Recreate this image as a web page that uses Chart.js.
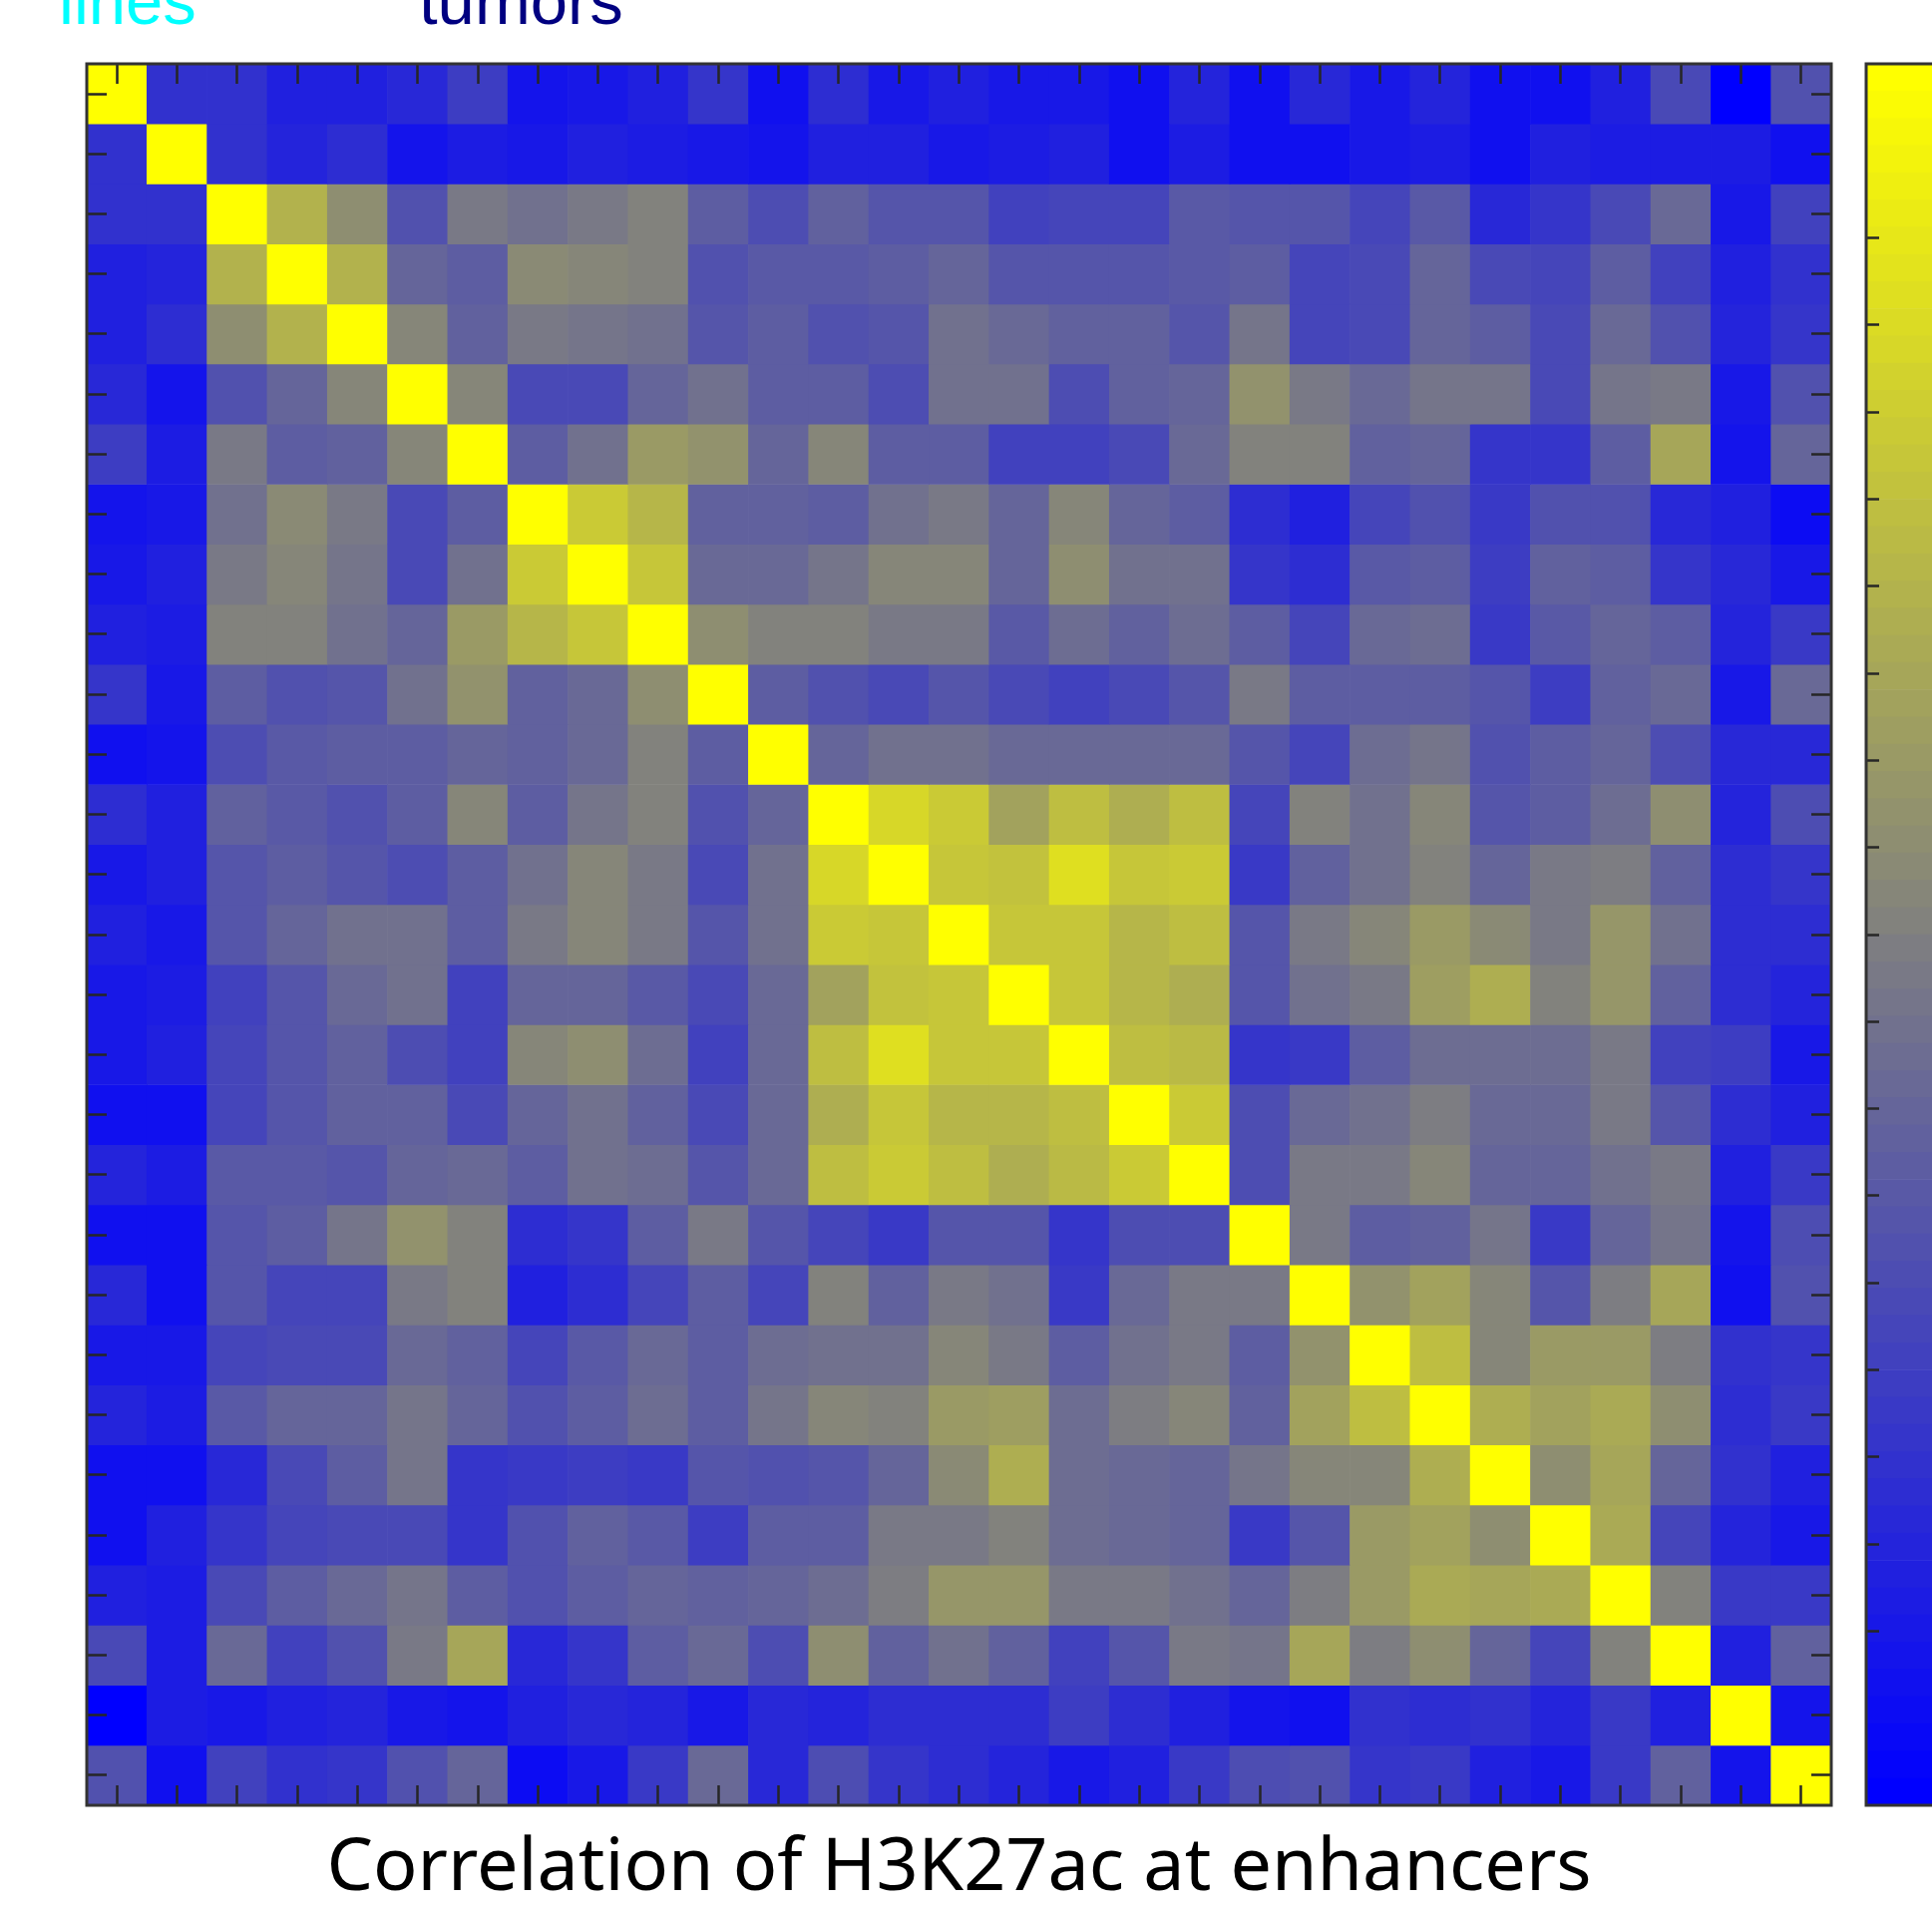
<!DOCTYPE html>
<html>
<head>
<meta charset="utf-8">
<title>Correlation of H3K27ac at enhancers</title>
<script src="https://cdn.jsdelivr.net/npm/chart.js@4"></script>
<style>
    html, body { margin: 0; padding: 0; background: #fff; }
    #page { position: relative; width: 1937px; height: 1915px; overflow: hidden; }
    #mainChart { position: absolute; left: 0; top: 0; }
    #barChart { position: absolute; left: 1850px; top: 0; }
    .group { position: absolute; font-family: "Liberation Sans"; font-size: 67px; line-height: 67px; }
</style>
</head>
<body>
<div id="page">
    <canvas id="mainChart" width="1937" height="1915"></canvas>
    <canvas id="barChart" width="300" height="1915"></canvas>
    <div class="group" style="left:59px; top:-33px; color:#00ffff;">lines</div>
    <div class="group" style="left:420px; top:-33px; color:#000080;">tumors</div>
</div>
<script>
//Sample numbers, one per row/column of the matrix
var samples = [1,2,3,4,5,6,7,8,9,10,11,12,13,14,15,16,17,18,19,20,21,22,23,24,25,26,27,28,29];

//Correlation levels (0 = blue, 100 = yellow), matrix is symmetric so each row starts at its diagonal
var row1  = [100,19,19,13,12,16,24,8,9,12,21,7,17,10,13,10,10,7,14,7,16,9,14,7,6,13,28,0,32];
var row2  = [100,19,15,18,8,11,9,12,11,9,8,13,12,10,11,13,6,11,6,6,9,11,7,12,11,11,11,7];
var row3  = [100,70,55,31,48,45,47,50,36,30,38,33,33,25,27,27,35,33,34,27,35,16,20,28,42,9,25];
var row4  = [100,70,39,36,54,53,51,31,35,35,37,39,33,34,34,35,37,27,29,39,28,27,36,26,13,19];
var row5  = [100,52,38,48,46,45,34,37,31,33,44,42,38,38,33,46,27,29,39,37,28,41,31,14,20];
var row6  = [100,52,29,29,40,44,37,36,30,44,44,30,38,40,57,48,41,46,46,29,46,47,10,31];
var row7  = [100,37,44,61,57,39,52,37,36,25,25,28,42,50,50,38,40,20,20,36,65,8,40];
var row8  = [100,80,71,38,38,37,44,48,40,53,40,37,17,13,27,32,23,31,31,16,13,5];
var row9  = [100,77,41,42,46,52,52,40,55,44,45,20,17,35,37,24,38,36,20,16,10];
var row10 = [100,56,50,50,47,47,35,43,38,43,36,27,41,43,23,35,39,37,14,23];
var row11 = [100,37,32,29,34,29,25,28,33,48,36,37,36,33,24,38,41,10,41];
var row12 = [100,40,44,45,41,41,41,41,33,27,43,46,32,37,39,30,16,16];
var row13 = [100,84,79,63,75,68,75,27,50,44,53,33,37,43,55,15,30];
var row14 = [100,78,76,87,78,80,23,38,45,50,40,48,49,38,17,20];
var row15 = [100,78,78,71,74,34,48,52,61,54,47,58,45,17,18];
var row16 = [100,77,71,68,34,44,47,62,69,50,58,38,17,15];
var row17 = [100,74,73,20,23,37,43,43,43,48,26,24,9];
var row18 = [100,79,30,41,45,49,42,42,48,33,17,13];
var row19 = [100,30,47,48,52,40,40,45,48,13,23];
var row20 = [100,48,37,38,46,22,40,46,8,30];
var row21 = [100,57,64,53,33,49,65,6,31];
var row22 = [100,74,53,60,61,49,19,20];
var row23 = [100,68,63,67,56,18,22];
var row24 = [100,55,65,39,19,13];
var row25 = [100,66,27,15,10];
var row26 = [100,50,22,22];
var row27 = [100,13,38];
var row28 = [100,8];
var row29 = [100];
var upperRows = [row1,row2,row3,row4,row5,row6,row7,row8,row9,row10,row11,row12,row13,row14,row15,
    row16,row17,row18,row19,row20,row21,row22,row23,row24,row25,row26,row27,row28,row29];

//Tick positions of the colorbar
var barTicks = [0.1,0.15,0.2,0.25,0.3,0.35,0.4,0.45,0.5,0.55,0.6,0.65,0.7,0.75,0.8,0.85,0.9];

//Blue to yellow colormap with 64 steps
var STEPS = 64;
function stepColor(i) {
    var c = Math.round(255 * i / (STEPS - 1));
    return 'rgb(' + c + ',' + c + ',' + (255 - c) + ')';
}
function levelColor(level) {
    return stepColor(Math.round(level / 100 * (STEPS - 1)));
}

function cell(r, c) {
    return r <= c ? upperRows[r][c - r] : upperRows[c][r - c];
}

var datasets = samples.map(function (s, r) {
    return {
        label: 'Sample ' + s,
        data: samples.map(function () { return 1; }),
        backgroundColor: samples.map(function (s2, c) { return levelColor(cell(r, c)); }),
        barPercentage: 1,
        categoryPercentage: 1,
        borderWidth: 0
    };
});

var FRAME = '#333333';
var TICK = '#262626';

//Scale borders get lost with the zero sized scales, so draw the box here
var framePlugin = {
    id: 'frame',
    afterDraw: function (chart) {
        var a = chart.chartArea;
        var ctx = chart.ctx;
        ctx.save();
        ctx.strokeStyle = FRAME;
        ctx.lineWidth = 3;
        ctx.strokeRect(a.left, a.top, a.right - a.left, a.bottom - a.top);
        ctx.restore();
    }
};

//Inward ticks only, the scale takes no room in the layout
function tickAxis(extra) {
    return Object.assign({
        grid: { z: 1, drawOnChartArea: false, drawTicks: true, tickLength: -20, tickWidth: 2.5, tickColor: TICK, offset: false },
        border: { display: false },
        ticks: { display: false, autoSkip: false },
        afterFit: function (scale) {
            if (scale.isHorizontal()) { scale.height = 0; } else { scale.width = 0; }
        }
    }, extra);
}

function centerTicks(scale) {
    scale.ticks = samples.map(function (s, i) { return { value: i + 0.5 }; });
}

var mainChart = new Chart(document.getElementById('mainChart').getContext('2d'), {
    type: 'bar',
    data: { labels: samples, datasets: datasets },
    plugins: [framePlugin],
    options: {
        responsive: false,
        animation: false,
        devicePixelRatio: 1,
        layout: { autoPadding: false, padding: { left: 87, right: 101, top: 64, bottom: 0 } },
        plugins: {
            legend: { display: false },
            tooltip: { enabled: false },
            title: {
                display: true,
                position: 'bottom',
                text: 'Correlation of H3K27ac at enhancers',
                color: '#000000',
                font: { family: '"Noto Sans"', size: 73.7, weight: 'normal', lineHeight: 1.1 },
                padding: { top: 23.9, bottom: 0 }
            }
        },
        scales: {
            x: tickAxis({ type: 'category', position: 'bottom', stacked: true, offset: true }),
            x2: tickAxis({ type: 'category', axis: 'x', position: 'top', labels: samples, offset: true }),
            y: tickAxis({ type: 'linear', position: 'left', stacked: true, reverse: true, min: 0, max: 29, afterBuildTicks: centerTicks }),
            y2: tickAxis({ type: 'linear', axis: 'y', position: 'right', reverse: true, min: 0, max: 29, afterBuildTicks: centerTicks })
        }
    }
});

//Colorbar, runs past the edge of the page
var barSets = [];
for (var i = 0; i < STEPS; i++) {
    barSets.push({
        label: 'step ' + i,
        data: [1 / STEPS],
        backgroundColor: stepColor(i),
        barPercentage: 1,
        categoryPercentage: 1,
        borderWidth: 0
    });
}

var barChart = new Chart(document.getElementById('barChart').getContext('2d'), {
    type: 'bar',
    data: { labels: [''], datasets: barSets },
    plugins: [framePlugin],
    options: {
        responsive: false,
        animation: false,
        devicePixelRatio: 1,
        layout: { autoPadding: false, padding: { left: 21, right: 20, top: 64, bottom: 105 } },
        plugins: { legend: { display: false }, tooltip: { enabled: false } },
        scales: {
            x: tickAxis({ type: 'category', position: 'bottom', stacked: true, grid: { display: false } }),
            x2: tickAxis({ type: 'category', axis: 'x', position: 'top', labels: [''], grid: { display: false } }),
            y: tickAxis({
                type: 'linear', position: 'left', stacked: true, min: 0, max: 1,
                grid: { z: 1, drawOnChartArea: false, tickLength: -13, tickWidth: 2.5, tickColor: TICK },
                afterBuildTicks: function (scale) {
                    scale.ticks = barTicks.map(function (v) { return { value: v }; });
                }
            })
        }
    }
});
</script>
</body>
</html>
